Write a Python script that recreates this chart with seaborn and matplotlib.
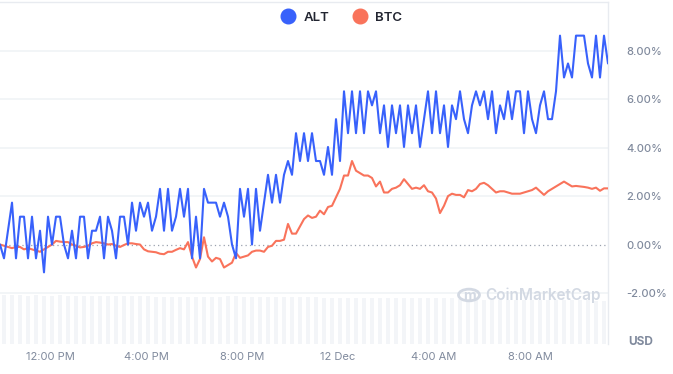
import pandas as pd
import seaborn as sns
import matplotlib.pyplot as plt
from matplotlib.lines import Line2D
from matplotlib.patches import Circle

# Percent change, one reading every 10 minutes
alt_pct = [
    0, -0.57, 0.57, 1.73, -0.57, 1.15, 1.15, -0.57, 1.15, -0.57,
    0.57, -1.15, 1.15, 0, 1.15, 1.15, 0, -0.57, 0.57, -0.57,
    1.15, 1.15, -0.57, 0.57, 0.57, 1.15, -0.57, 1.15, 0.57, -0.57,
    1.15, 1.15, 0, 1.73, 0.57, 1.73, 1.15, 1.73, 0.57, 1.15,
    2.3, 0.57, 2.3, 0.57, 1.15, 2.3, 1.15, 2.3, -0.57, 1.15,
    -0.57, 2.3, 1.73, 1.73, 1.73, 1.15, 1.73, 1.15, 0, -0.57,
    2.3, 1.15, 2.3, 0, 2.3, 0.57, 1.73, 2.88, 1.73, 2.88,
    1.73, 2.88, 3.45, 2.88, 4.6, 3.45, 4.6, 3.45, 4.6, 3.45,
    3.45, 2.88, 4.03, 2.88, 5.18, 3.45, 6.33, 4.6, 6.33, 4.6,
    6.33, 4.6, 6.33, 5.75, 6.33, 4.6, 5.75, 4.03, 5.75, 4.6,
    5.75, 4.03, 5.75, 4.6, 5.75, 4.03, 5.18, 6.33, 4.6, 6.33,
    4.6, 5.75, 4.03, 5.75, 5.18, 6.33, 5.18, 4.6, 5.75, 6.33,
    5.75, 6.33, 5.18, 6.33, 4.6, 5.75, 5.18, 6.33, 5.18, 6.33,
    6.33, 4.6, 6.33, 5.18, 4.6, 5.75, 6.33, 5.18, 5.18, 6.33,
    8.63, 6.9, 7.48, 6.9, 8.63, 8.63, 8.63, 7.48, 6.9, 8.63,
    6.9, 8.63, 7.48,
]
btc_pct = [
    0.0, -0.05, -0.1, -0.15, -0.1, -0.1, -0.2, -0.15, -0.2, -0.25,
    -0.3, -0.2, -0.1, 0.0, 0.15, 0.12, 0.1, 0.1, 0.0, -0.05,
    -0.12, -0.1, -0.05, 0.05, 0.1, 0.08, 0.05, 0.0, 0.02, -0.05,
    -0.1, -0.02, 0.05, 0.05, 0.02, 0.0, -0.2, -0.28, -0.3, -0.32,
    -0.38, -0.4, -0.3, -0.3, -0.22, -0.15, -0.2, 0.1, -0.5, -0.95,
    -0.6, 0.3, -0.5, -0.7, -0.55, -0.6, -0.95, -0.85, -0.75, -0.35,
    -0.55, -0.5, -0.45, -0.3, -0.25, -0.25, -0.3, -0.1, -0.05, 0.15,
    0.15, 0.2, 0.85, 0.45, 0.45, 0.75, 1.05, 1.2, 1.1, 1.15,
    1.4, 1.25, 1.55, 1.6, 1.95, 2.3, 2.85, 2.85, 3.45, 3.05,
    2.95, 2.85, 2.85, 2.75, 2.4, 2.6, 2.15, 2.15, 2.3, 2.35,
    2.45, 2.7, 2.5, 2.3, 2.35, 2.3, 2.45, 2.2, 2.15, 1.9,
    1.3, 1.6, 2.0, 2.1, 2.05, 2.05, 1.95, 2.25, 2.2, 2.3,
    2.5, 2.55, 2.45, 2.3, 2.15, 2.2, 2.2, 2.15, 2.1, 2.1,
    2.1, 2.15, 2.2, 2.25, 2.35, 2.2, 2.05, 2.2, 2.3, 2.4,
    2.5, 2.6, 2.5, 2.4, 2.42, 2.4, 2.38, 2.35, 2.3, 2.35,
    2.22, 2.32, 2.32,
]
# Relative volume, one reading every 20 minutes
volume = [
    48, 48, 48, 47, 48, 47, 47, 48, 47, 47, 47, 47, 47, 47, 47, 47, 47, 47, 47,
    46, 46, 46, 46, 46, 46, 46, 46, 46, 47, 47, 46, 46, 46, 46, 46, 46, 46, 46,
    46, 46, 45, 45, 45, 45, 45, 45, 45, 45, 45, 45, 45, 45, 45, 45, 45, 45, 45,
    44, 44, 43, 43, 43, 43, 43, 43, 43, 43, 43, 43, 43, 43, 43, 43, 43, 42, 42,
]

start_time = "2023-12-11 09:55"
tick_times = ["2023-12-11 12:00", "2023-12-11 16:00", "2023-12-11 20:00",
              "2023-12-12 00:00", "2023-12-12 04:00", "2023-12-12 08:00"]
tick_labels = ["12:00 PM", "4:00 PM", "8:00 PM", "12 Dec", "4:00 AM", "8:00 AM"]
y_ticks = [-2, 0, 2, 4, 6, 8]

alt_color = "#3861fb"
btc_color = "#f9735b"
label_gray = "#808a9d"
grid_gray = "#eff2f5"

times = pd.date_range(start_time, periods=len(alt_pct), freq="10min")
df = pd.DataFrame({"time": times, "ALT": alt_pct, "BTC": btc_pct})

sns.set_style("white")
plt.rcParams["font.family"] = ["Inter", "DejaVu Sans"]

fig = plt.figure(figsize=(6.73, 3.74), dpi=100)
rect = [0, 30 / 374, 608 / 673, 342 / 374]

# Volume pane behind the price lines
vax = fig.add_axes(rect)
sns.barplot(x=list(range(len(volume))), y=volume, color="#f3f5f8",
            saturation=1, width=0.5, edgecolor="none", linewidth=0, ax=vax)
vax.set_xlim(-0.5, len(volume) - 0.5)
vax.set_ylim(0, max(volume) * 342 / 49)
vax.axis("off")

ax = fig.add_axes(rect)
ax.set_facecolor("none")
for t in y_ticks:
    if t == 0:
        ax.axhline(t, color="#9aa1ae", lw=0.9, ls=(0, (1, 2.5)), zorder=1)
    else:
        ax.axhline(t, color=grid_gray, lw=1.1, zorder=1)

sns.lineplot(data=df, x="time", y="BTC", color=btc_color, lw=1.5, ax=ax, zorder=3)
sns.lineplot(data=df, x="time", y="ALT", color=alt_color, lw=1.5, ax=ax, zorder=4)

ax.set_xlim(times[0], times[-1])
ax.set_ylim(-4.11, 10.02)
ax.set_xlabel("")
ax.set_ylabel("")

ax.set_xticks(pd.to_datetime(tick_times))
ax.set_xticklabels(tick_labels)
ax.yaxis.tick_right()
ax.set_yticks(y_ticks)
ax.set_yticklabels([f"{v:.2f}%" for v in y_ticks])
ax.tick_params(axis="y", length=0, pad=13, labelsize=8, labelcolor=label_gray)
ax.tick_params(axis="x", length=0, pad=6, labelsize=8, labelcolor=label_gray)
for lab in ax.get_yticklabels():
    lab.set_fontweight("medium")

for side in ["left", "bottom"]:
    ax.spines[side].set_visible(False)
for side in ["top", "right"]:
    ax.spines[side].set_color("#e8ebf0")
    ax.spines[side].set_linewidth(1)

fig.text(628 / 673, 1 - 342 / 374, "USD", fontsize=8.5, fontweight="bold",
         color=label_gray, va="center", ha="left")

# Watermark
fig.patches.append(Circle((469 / 673, 1 - 295 / 374), 10.5 / 673, transform=fig.transFigure,
                          fill=False, ec="#d3d9e3", lw=2))
fig.text(469 / 673, 1 - 296 / 374, "m", fontsize=10, fontweight="bold",
         color="#d3d9e3", ha="center", va="center")
fig.text(485 / 673, 1 - 295 / 374, "CoinMarketCap", fontsize=11, fontweight="semibold",
         color="#d3d9e3", ha="left", va="center")

handles = [Line2D([], [], marker="o", ls="", color=alt_color, markersize=10.5),
           Line2D([], [], marker="o", ls="", color=btc_color, markersize=10.5)]
fig.legend(handles, ["ALT", "BTC"], loc="center", bbox_to_anchor=(0.503, 1 - 18 / 374),
           ncol=2, frameon=False, handletextpad=0.2, columnspacing=1.3,
           prop={"size": 9.5, "weight": "semibold"}, labelcolor="#222531")

fig.savefig("out.png", dpi=100)
